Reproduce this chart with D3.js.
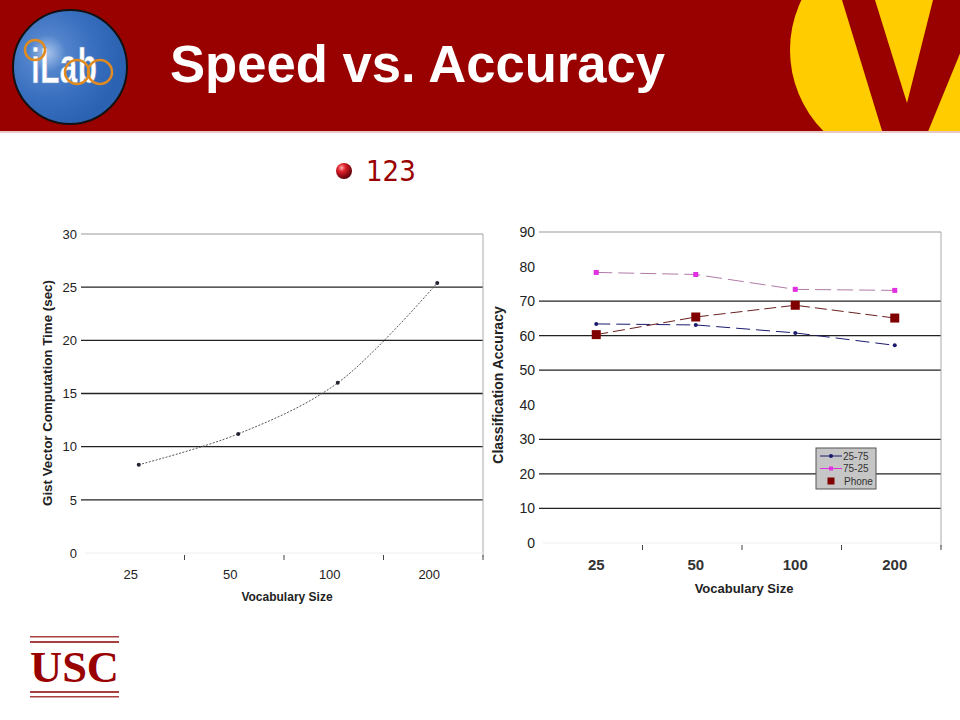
<!DOCTYPE html>
<html lang="en">
<head>
  <meta charset="UTF-8">
  <script src="https://d3js.org/d3.v7.min.js"></script>
  <title>Speed vs. Accuracy</title>
  <style>
    body { margin: 0; background: #fff; }
    svg { display: block; font-family: 'Liberation Sans', Arial, sans-serif; }
  </style>
</head>
<body>
  <svg id="slide" width="960" height="720"></svg>

  <script>
    // vocabulary sizes shared by both charts
    const vocab = ["25", "50", "100", "200"];

    // left chart: gist computation time (sec)
    const gistTime = [8.3, 11.2, 16.0, 25.4];
    const timeTicks = [0, 5, 10, 15, 20, 25, 30];

    // right chart: classification accuracy
    const acc2575 = [63.4, 63.1, 60.8, 57.2];
    const acc7525 = [78.3, 77.7, 73.4, 73.1];
    const accPhone = [60.3, 65.4, 68.8, 65.1];
    const accTicks = [0, 10, 20, 30, 40, 50, 60, 70, 80, 90];
    const accGrid = [10, 20, 30, 50, 60, 70, 90]; // the 40 and 80 lines don't show in the picture
    const seriesNames = ["25-75", "75-25", "Phone"];

    const svg = d3.select("#slide");
    const red = "#990000";

    // ---- header band ----
    svg.append("rect").attr("x", 0).attr("y", 0).attr("width", 960).attr("height", 131).attr("fill", red);
    svg.append("rect").attr("x", 0).attr("y", 131).attr("width", 960).attr("height", 2).attr("fill", "#e8c8c8");

    const defs = svg.append("defs");
    defs.append("clipPath").attr("id", "band").append("rect")
      .attr("x", 0).attr("y", 0).attr("width", 960).attr("height", 131);
    const blue = defs.append("radialGradient").attr("id", "blueGrad").attr("cx", "30%").attr("cy", "38%").attr("r", "65%");
    blue.append("stop").attr("offset", "0%").attr("stop-color", "#a8c4ec");
    blue.append("stop").attr("offset", "25%").attr("stop-color", "#5284cc");
    blue.append("stop").attr("offset", "60%").attr("stop-color", "#3a70c0");
    blue.append("stop").attr("offset", "100%").attr("stop-color", "#2c62b2");
    const ball = defs.append("radialGradient").attr("id", "ballGrad").attr("cx", "35%").attr("cy", "30%").attr("r", "70%");
    ball.append("stop").attr("offset", "0%").attr("stop-color", "#ffb0b0");
    ball.append("stop").attr("offset", "35%").attr("stop-color", "#e0202a");
    ball.append("stop").attr("offset", "100%").attr("stop-color", "#600008");

    // V logo on the right (clipped to the band)
    const vLogo = svg.append("g").attr("clip-path", "url(#band)");
    vLogo.append("circle").attr("cx", 905).attr("cy", 50).attr("r", 115).attr("fill", "#ffcc00");
    vLogo.append("path")
      .attr("d", "M842,0 L875,0 L907,103 L933,0 L982,0 L927,134 L883,134 Z")
      .attr("fill", red);

    // iLab logo on the left
    const lab = svg.append("g");
    lab.append("circle").attr("cx", 70).attr("cy", 67).attr("r", 57)
      .attr("fill", "url(#blueGrad)").attr("stroke", "#111").attr("stroke-width", 2);
    lab.append("text").attr("x", 31).attr("y", 83)
      .attr("font-size", 50).attr("font-weight", "bold").attr("fill", "#ffffff")
      .attr("stroke", "#6f93c8").attr("stroke-width", 0.6)
      .attr("textLength", 66).attr("lengthAdjust", "spacingAndGlyphs")
      .text("iLab");
    [[35, 50, 10], [77, 72, 12], [100, 72, 12]].forEach(([cx, cy, r]) => {
      lab.append("circle").attr("cx", cx).attr("cy", cy).attr("r", r)
        .attr("fill", "none").attr("stroke", "#e08a20").attr("stroke-width", 2.5);
    });

    svg.append("text").attr("x", 170).attr("y", 82)
      .attr("font-size", 51).attr("font-weight", "bold").attr("fill", "#fff")
      .attr("textLength", 495).attr("lengthAdjust", "spacingAndGlyphs")
      .text("Speed vs. Accuracy");

    // bullet line
    svg.append("circle").attr("cx", 344).attr("cy", 171).attr("r", 8).attr("fill", "url(#ballGrad)");
    svg.append("text").attr("x", 366).attr("y", 181)
      .attr("font-size", 29).attr("fill", red)
      .attr("font-family", "'DejaVu Sans Condensed', 'DejaVu Sans', sans-serif")
      .text("123");

    // ---- a chart with Excel-like look ----
    function frame(g, x, y, gridVals, tickVals, tickSize) {
      const [x0, x1] = x.range();
      const [y0, y1] = y.range();
      g.selectAll(".grid").data(gridVals).join("line")
        .attr("x1", x0 - 4).attr("x2", x1)
        .attr("y1", d => y(d)).attr("y2", d => y(d))
        .attr("stroke", d => d === y.domain()[1] ? "#999" : "#222")
        .attr("stroke-width", d => d === y.domain()[1] ? 1 : 1.3);
      g.append("line").attr("x1", x1).attr("x2", x1).attr("y1", y1).attr("y2", y0 + 4)
        .attr("stroke", "#aaa");
      g.append("line").attr("x1", x0).attr("x2", x1).attr("y1", y0).attr("y2", y0)
        .attr("stroke", "#eee");
      // category separators below the plot
      g.selectAll(".xt").data(vocab).join("line")
        .attr("x1", (d, i) => x0 + (i + 1) * x.bandwidth()).attr("x2", (d, i) => x0 + (i + 1) * x.bandwidth())
        .attr("y1", y0 + 2).attr("y2", y0 + 7)
        .attr("stroke", "#444");
      g.selectAll(".yl").data(tickVals).join("text")
        .attr("x", x0 - 8).attr("y", d => y(d) + tickSize * 0.36)
        .attr("text-anchor", "end").attr("font-size", tickSize).attr("fill", "#222")
        .text(d => d);
    }

    // left chart
    const xL = d3.scaleBand().domain(vocab).range([85, 483]);
    const yL = d3.scaleLinear().domain([0, 30]).range([553, 234]);
    const gL = svg.append("g");
    frame(gL, xL, yL, timeTicks.filter(d => d > 0), timeTicks, 13);
    gL.selectAll(".xl").data(vocab).join("text")
      .attr("x", d => xL(d) + xL.bandwidth() / 2 - 4).attr("y", 579)
      .attr("text-anchor", "middle").attr("font-size", 13).attr("fill", "#222").text(d => d);
    gL.append("text").attr("x", 287).attr("y", 601).attr("text-anchor", "middle")
      .attr("font-size", 12).attr("font-weight", "bold").attr("fill", "#222").text("Vocabulary Size");
    gL.append("text").attr("transform", "translate(52,393) rotate(-90)").attr("text-anchor", "middle")
      .attr("font-size", 12.5).attr("font-weight", "bold").attr("fill", "#222")
      .attr("textLength", 226).attr("lengthAdjust", "spacingAndGlyphs")
      .text("Gist Vector Computation Time (sec)");
    const ptsL = vocab.map((v, i) => [xL(v) + xL.bandwidth() / 2 + 4, yL(gistTime[i])]);
    gL.append("path").attr("d", d3.line().curve(d3.curveCatmullRom)(ptsL))
      .attr("fill", "none").attr("stroke", "#555").attr("stroke-width", 1).attr("stroke-dasharray", "2,1.5");
    gL.selectAll(".pt").data(ptsL).join("circle")
      .attr("cx", d => d[0]).attr("cy", d => d[1]).attr("r", 2).attr("fill", "#223");

    // right chart
    const xR = d3.scaleBand().domain(vocab).range([543, 941]);
    const yR = d3.scaleLinear().domain([0, 90]).range([543, 232]);
    const gR = svg.append("g");
    frame(gR, xR, yR, accGrid, accTicks, 14);
    const cx = v => xR(v) + xR.bandwidth() / 2 + 3.5;
    gR.selectAll(".xl").data(vocab).join("text")
      .attr("x", d => cx(d)).attr("y", 570)
      .attr("text-anchor", "middle").attr("font-size", 15).attr("font-weight", "bold")
      .attr("fill", "#333").text(d => d);
    gR.append("text").attr("x", 744).attr("y", 593).attr("text-anchor", "middle")
      .attr("font-size", 13).attr("font-weight", "bold").attr("fill", "#222").text("Vocabulary Size");
    gR.append("text").attr("transform", "translate(503,385) rotate(-90)").attr("text-anchor", "middle")
      .attr("font-size", 14).attr("font-weight", "bold").attr("fill", "#222")
      .text("Classification Accuracy");

    const series = [
      { name: seriesNames[0], vals: acc2575, color: "#1a1a6e", dash: "14,6", mark: "dot" },
      { name: seriesNames[1], vals: acc7525, color: "#e030e0", line: "#b07aa8", dash: "16,6", mark: "sq" },
      { name: seriesNames[2], vals: accPhone, color: "#800000", line: "#6a2020", dash: "12,5", mark: "big" }
    ];
    series.forEach(s => {
      const pts = vocab.map((v, i) => [cx(v), yR(s.vals[i])]);
      gR.append("path").attr("d", d3.line()(pts))
        .attr("fill", "none").attr("stroke", s.line || s.color).attr("stroke-width", 1)
        .attr("stroke-dasharray", s.dash);
      pts.forEach(p => {
        if (s.mark === "dot") {
          gR.append("circle").attr("cx", p[0]).attr("cy", p[1]).attr("r", 2).attr("fill", s.color);
        } else {
          const h = s.mark === "big" ? 4.5 : 2.5;
          gR.append("rect").attr("x", p[0] - h).attr("y", p[1] - h).attr("width", 2 * h).attr("height", 2 * h)
            .attr("fill", s.color);
        }
      });
    });

    // legend
    const lg = gR.append("g").attr("transform", "translate(816,448)");
    lg.append("rect").attr("width", 60).attr("height", 41).attr("fill", "#c6c6c6").attr("stroke", "#555");
    series.forEach((s, i) => {
      const yy = 8 + i * 12.5;
      if (s.mark !== "big") {
        lg.append("line").attr("x1", 4).attr("x2", 26).attr("y1", yy).attr("y2", yy).attr("stroke", s.color);
      }
      if (s.mark === "dot") lg.append("circle").attr("cx", 15).attr("cy", yy).attr("r", 2).attr("fill", s.color);
      else {
        const h = s.mark === "big" ? 3.5 : 2;
        lg.append("rect").attr("x", 15 - h).attr("y", yy - h).attr("width", 2 * h).attr("height", 2 * h).attr("fill", s.color);
      }
      lg.append("text").attr("x", s.mark === "big" ? 28 : 27).attr("y", yy + 3.5)
        .attr("font-size", 10).attr("fill", "#333").text(s.name);
    });

    // USC logo
    const usc = svg.append("g");
    [637, 642, 692, 697].forEach(yy => {
      usc.append("rect").attr("x", 30).attr("y", yy - 1).attr("width", 89).attr("height", yy === 642 || yy === 692 ? 2 : 1.5)
        .attr("fill", "#a84040");
    });
    usc.append("text").attr("x", 74.5).attr("y", 682).attr("text-anchor", "middle")
      .attr("font-family", "'Liberation Serif', serif").attr("font-weight", "bold")
      .attr("font-size", 45).attr("fill", red).attr("textLength", 89).attr("lengthAdjust", "spacingAndGlyphs")
      .text("USC");
  </script>
</body>
</html>
